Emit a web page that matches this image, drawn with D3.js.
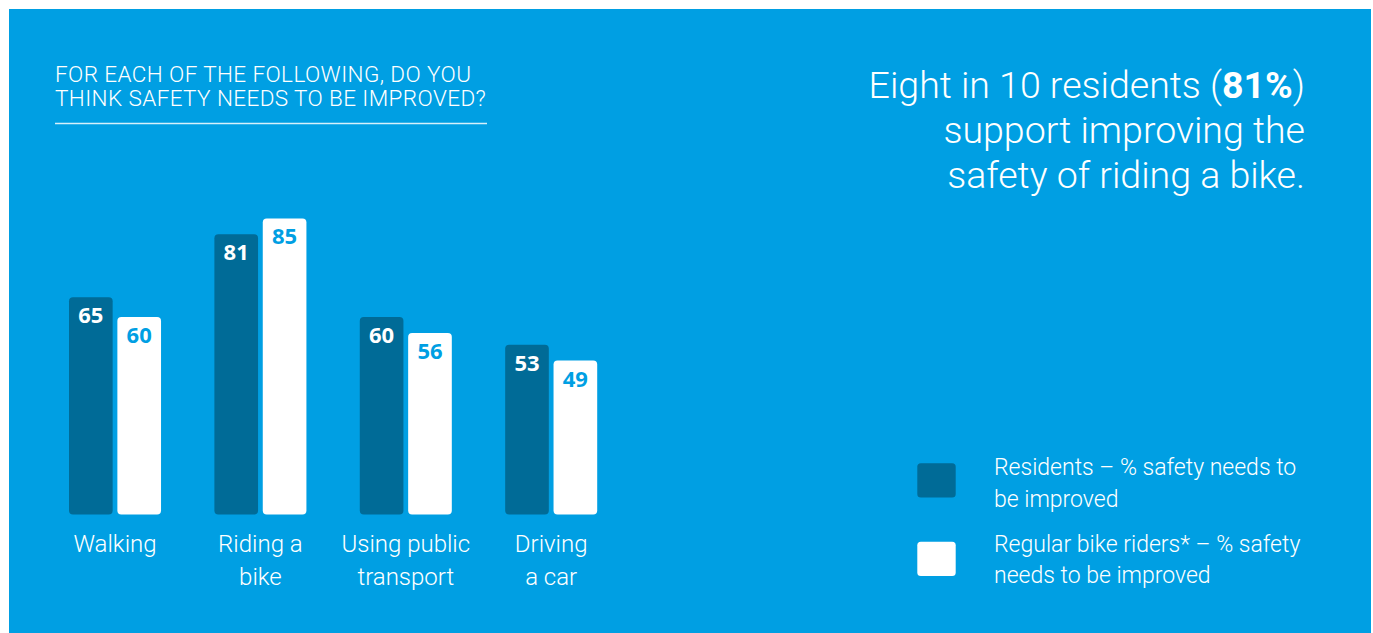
<!DOCTYPE html>
<html>
<head>
<meta charset="utf-8">
<script src="https://cdn.jsdelivr.net/npm/d3@7"></script>
<style>
  html, body { margin: 0; padding: 0; background: #ffffff; }
  svg { display: block; }
</style>
</head>
<body>
<svg id="chart" width="1373" height="633"></svg>
<script>
const categories = ["Walking", "Riding a bike", "Using public transport", "Driving a car"];
const categoryLines = [["Walking"], ["Riding a", "bike"], ["Using public", "transport"], ["Driving", "a car"]];
const residents = [65, 81, 60, 53];
const bikeRiders = [60, 85, 56, 49];
const seriesNames = ["Residents – % safety needs to be improved", "Regular bike riders* – % safety needs to be improved"];
const legendLines = [["Residents – % safety needs to", "be improved"], ["Regular bike riders* – % safety", "needs to be improved"]];
const titleLines = ["FOR EACH OF THE FOLLOWING, DO YOU", "THINK SAFETY NEEDS TO BE IMPROVED?"];

const BG = "#009FE3", DARK = "#006B97", WHITE = "#ffffff";
const LIGHT_FONT = "Roboto, 'Open Sans', sans-serif";

const svg = d3.select("#chart");
svg.append("rect").attr("x", 9).attr("y", 9).attr("width", 1362).attr("height", 624).attr("fill", BG);

// Title
const title = svg.append("text").attr("x", 55).attr("y", 82)
  .attr("fill", WHITE).attr("font-family", LIGHT_FONT).attr("font-weight", 300).attr("font-size", 22.5)
  .attr("letter-spacing", 0.4);
titleLines.forEach((t, i) => title.append("tspan").attr("x", 55).attr("dy", i === 0 ? 0 : 23.5).text(t));
svg.append("line").attr("x1", 55).attr("x2", 487).attr("y1", 123.5).attr("y2", 123.5)
  .attr("stroke", "#d6f0fb").attr("stroke-width", 1.6);

// Scales
const x = d3.scaleBand().domain(categories).range([69, 597.2]).paddingInner(0.367).paddingOuter(0);
const xs = d3.scaleBand().domain([0, 1]).range([0, x.bandwidth()]).paddingInner(0.0975);
const y = d3.scaleLinear().domain([10, 85]).range([514.5, 218.4]);
const baseline = y(10);

const data = categories.map((c, i) => ({ c, vals: [residents[i], bikeRiders[i]] }));
const g = svg.append("g");
const groups = g.selectAll("g.grp").data(data).join("g").attr("class", "grp")
  .attr("transform", d => `translate(${x(d.c)},0)`);

groups.selectAll("rect").data(d => d.vals.map((v, k) => ({ v, k }))).join("rect")
  .attr("x", d => xs(d.k)).attr("width", xs.bandwidth())
  .attr("y", d => y(d.v)).attr("height", d => baseline - y(d.v))
  .attr("rx", 4).attr("ry", 4)
  .attr("fill", d => d.k === 0 ? DARK : WHITE);

groups.selectAll("text.val").data(d => d.vals.map((v, k) => ({ v, k }))).join("text")
  .attr("class", "val")
  .attr("x", d => xs(d.k) + xs.bandwidth() / 2).attr("y", d => y(d.v) + 26)
  .attr("text-anchor", "middle")
  .attr("font-family", "'Open Sans', 'Noto Sans', sans-serif").attr("font-weight", 700).attr("font-size", 22)
  .attr("fill", d => d.k === 0 ? WHITE : BG)
  .text(d => d.v);

// Category labels
categories.forEach((c, i) => {
  const t = svg.append("text").attr("x", x(c) + x.bandwidth() / 2).attr("y", 552)
    .attr("text-anchor", "middle").attr("fill", WHITE)
    .attr("font-family", LIGHT_FONT).attr("font-weight", 300).attr("font-size", 24);
  categoryLines[i].forEach((l, j) => t.append("tspan").attr("x", x(c) + x.bandwidth() / 2).attr("dy", j === 0 ? 0 : 32.5).text(l));
});

// Headline
const hl = svg.append("g").attr("font-family", LIGHT_FONT).attr("font-weight", 300).attr("font-size", 37.5).attr("fill", WHITE);
const l1 = hl.append("text").attr("x", 1305).attr("y", 98).attr("text-anchor", "end");
l1.append("tspan").text("Eight in 10 residents (");
l1.append("tspan").attr("font-weight", 700).text("81%");
l1.append("tspan").text(")");
hl.append("text").attr("x", 1305).attr("y", 143).attr("text-anchor", "end").text("support improving the");
hl.append("text").attr("x", 1305).attr("y", 188).attr("text-anchor", "end").text("safety of riding a bike.");

// Legend
const legY = [463.3, 541.7];
const legTextY = [475, 551.7];
seriesNames.forEach((s, i) => {
  svg.append("rect").attr("x", 917.3).attr("y", legY[i]).attr("width", 38.4).attr("height", 34.2)
    .attr("rx", 3.5).attr("fill", i === 0 ? DARK : WHITE);
  const t = svg.append("text").attr("x", 994).attr("y", legTextY[i]).attr("fill", WHITE)
    .attr("font-family", LIGHT_FONT).attr("font-weight", 300).attr("font-size", 23);
  legendLines[i].forEach((l, j) => t.append("tspan").attr("x", 994).attr("dy", j === 0 ? 0 : 31.5).text(l));
});
</script>
</body>
</html>
